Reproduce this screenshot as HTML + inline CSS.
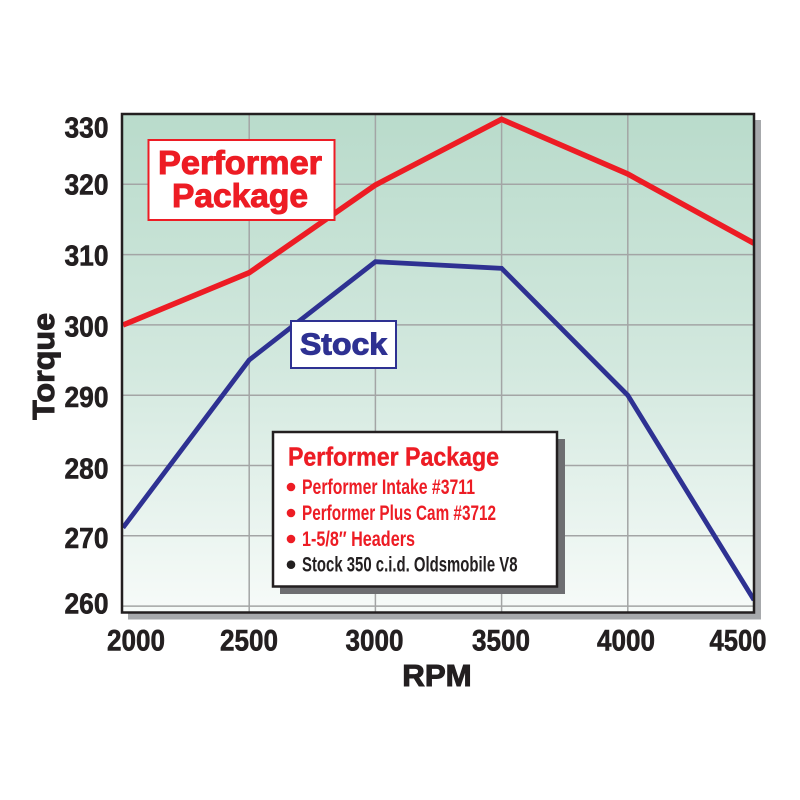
<!DOCTYPE html>
<html>
<head>
<meta charset="utf-8">
<style>
html,body{margin:0;padding:0;background:#fff;}
svg{display:block;}
text{font-family:"Liberation Sans",sans-serif;font-weight:bold;}
</style>
</head>
<body>
<svg width="800" height="800" viewBox="0 0 800 800" xmlns="http://www.w3.org/2000/svg">
<defs>
<linearGradient id="bg" x1="0" y1="0" x2="0" y2="1">
<stop offset="0" stop-color="#b9dbcb"/>
<stop offset="0.5" stop-color="#d2e8de"/>
<stop offset="1" stop-color="#f7fbf9"/>
</linearGradient>
<clipPath id="plot"><rect x="122" y="114" width="632" height="498.5"/></clipPath>
</defs>
<rect width="800" height="800" fill="#fff"/>
<rect x="128" y="120" width="633" height="499.5" fill="#a7a9ac"/>
<rect x="122" y="114" width="632" height="498.5" fill="url(#bg)"/>
<g stroke="#a3a5a5" stroke-width="1.5">
<line x1="249.2" y1="114" x2="249.2" y2="612.5"/>
<line x1="375.4" y1="114" x2="375.4" y2="612.5"/>
<line x1="501.6" y1="114" x2="501.6" y2="612.5"/>
<line x1="627.8" y1="114" x2="627.8" y2="612.5"/>
<line x1="122" y1="184.3" x2="754" y2="184.3"/>
<line x1="122" y1="254.6" x2="754" y2="254.6"/>
<line x1="122" y1="324.9" x2="754" y2="324.9"/>
<line x1="122" y1="395.2" x2="754" y2="395.2"/>
<line x1="122" y1="465.5" x2="754" y2="465.5"/>
<line x1="122" y1="535.8" x2="754" y2="535.8"/>
<line x1="122" y1="606.1" x2="754" y2="606.1"/>
</g>
<g clip-path="url(#plot)" fill="none" stroke-linejoin="miter">
<polyline points="123,325 249.2,272.7 375.4,185 501.6,119.3 627.8,174 754,243.3" stroke="#ed1c24" stroke-width="5.5"/>
<polyline points="123,527.7 249.2,360 375.4,261.7 501.6,268.3 627.8,395.3 754,600" stroke="#2e3192" stroke-width="4.8"/>
</g>
<rect x="122" y="114" width="632" height="498.5" fill="none" stroke="#231f20" stroke-width="2.5"/>

<rect x="148.5" y="140" width="186" height="80" fill="#fff" stroke="#ed1c24" stroke-width="2"/>
<g fill="#ed1c24" stroke="#ed1c24" stroke-width="1">
<text x="158" y="174" font-size="33" textLength="164" lengthAdjust="spacingAndGlyphs">Performer</text>
<text x="172" y="207" font-size="33" textLength="136" lengthAdjust="spacingAndGlyphs">Package</text>
</g>

<rect x="291" y="321" width="105" height="47" fill="#fff" stroke="#2e3192" stroke-width="2"/>
<text x="300" y="354.3" font-size="31" fill="#2e3192" stroke="#2e3192" stroke-width="1" textLength="87" lengthAdjust="spacingAndGlyphs">Stock</text>

<rect x="280" y="439" width="285" height="155" fill="#6d6e71"/>
<rect x="273" y="432" width="284" height="154.5" fill="#fff" stroke="#231f20" stroke-width="2.5"/>
<text x="288" y="465.7" font-size="26" fill="#ed1c24" stroke="#ed1c24" stroke-width="0.4" textLength="211" lengthAdjust="spacingAndGlyphs">Performer Package</text>
<circle cx="291" cy="487" r="4.3" fill="#ed1c24"/>
<text x="302" y="494" font-size="21" fill="#ed1c24" textLength="173" lengthAdjust="spacingAndGlyphs">Performer Intake #3711</text>
<circle cx="291" cy="513" r="4.3" fill="#ed1c24"/>
<text x="302" y="520" font-size="21" fill="#ed1c24" textLength="194" lengthAdjust="spacingAndGlyphs">Performer Plus Cam #3712</text>
<circle cx="291" cy="539" r="4.3" fill="#ed1c24"/>
<text x="302" y="546" font-size="21" fill="#ed1c24" textLength="113" lengthAdjust="spacingAndGlyphs">1-5/8″ Headers</text>
<circle cx="291" cy="564.7" r="4.3" fill="#231f20"/>
<text x="302" y="571.7" font-size="21" fill="#231f20" textLength="215.5" lengthAdjust="spacingAndGlyphs">Stock 350 c.i.d. Oldsmobile V8</text>

<g font-size="29" fill="#231f20" stroke="#231f20" stroke-width="0.6" text-anchor="end">
<text x="108.5" y="137.7" textLength="44" lengthAdjust="spacingAndGlyphs">330</text>
<text x="108.5" y="194.3" textLength="44" lengthAdjust="spacingAndGlyphs">320</text>
<text x="108.5" y="265.3" textLength="44" lengthAdjust="spacingAndGlyphs">310</text>
<text x="108.5" y="336.7" textLength="44" lengthAdjust="spacingAndGlyphs">300</text>
<text x="108.5" y="407" textLength="44" lengthAdjust="spacingAndGlyphs">290</text>
<text x="108.5" y="478.3" textLength="44" lengthAdjust="spacingAndGlyphs">280</text>
<text x="108.5" y="548" textLength="44" lengthAdjust="spacingAndGlyphs">270</text>
<text x="108.5" y="613.5" textLength="44" lengthAdjust="spacingAndGlyphs">260</text>
</g>
<g font-size="30" fill="#231f20" stroke="#231f20" stroke-width="0.6" text-anchor="middle">
<text x="136" y="650.7" textLength="58" lengthAdjust="spacingAndGlyphs">2000</text>
<text x="249" y="650.7" textLength="58" lengthAdjust="spacingAndGlyphs">2500</text>
<text x="374.5" y="650.7" textLength="58" lengthAdjust="spacingAndGlyphs">3000</text>
<text x="501" y="650.7" textLength="58" lengthAdjust="spacingAndGlyphs">3500</text>
<text x="626" y="650.7" textLength="58" lengthAdjust="spacingAndGlyphs">4000</text>
<text x="738" y="650.7" textLength="57" lengthAdjust="spacingAndGlyphs">4500</text>
</g>
<text x="402.3" y="686" font-size="31" fill="#231f20" stroke="#231f20" stroke-width="1" textLength="69.4" lengthAdjust="spacingAndGlyphs">RPM</text>
<text transform="translate(54,366.4) rotate(-90)" x="0" y="0" font-size="31" fill="#231f20" stroke="#231f20" stroke-width="1" text-anchor="middle" textLength="107" lengthAdjust="spacingAndGlyphs">Torque</text>
</svg>
</body>
</html>
